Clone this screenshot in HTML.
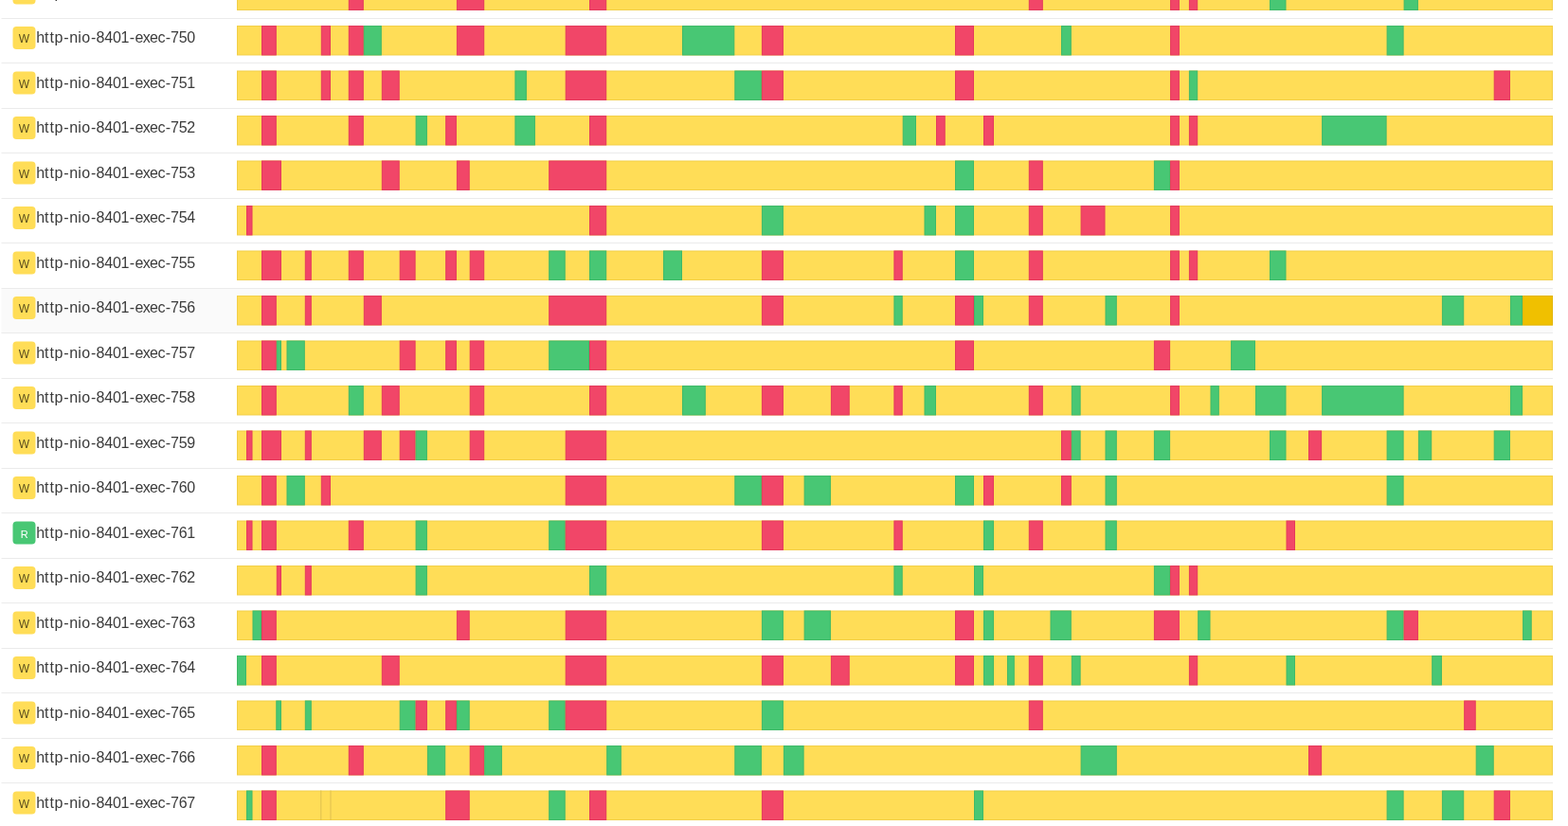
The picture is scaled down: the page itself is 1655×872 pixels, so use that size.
<!DOCTYPE html>
<html lang="en"><head><meta charset="utf-8"><title>Threads</title>
<style>
html,body{margin:0;padding:0;background:#fff;}
body{width:1655px;height:872px;position:relative;overflow:hidden;font-family:"Liberation Sans",sans-serif;color:#4a4a4a;}
svg{position:absolute;left:0;top:0;display:block;}
text{font-family:"Liberation Sans",sans-serif;}
.tg{font-size:12px;}
.tg.r{font-size:11px;}
  .nm{font-size:16px;fill:#3b3b3b;}
</style></head><body>
<svg width="1655" height="872" viewBox="0 0 1655 872">
<rect x="1.5" y="305" width="1637.5" height="47" fill="#fafafa"/>
<rect x="1.5" y="-29" width="1637.5" height="1" fill="#ebebeb"/>
<rect x="1.5" y="19" width="1637.5" height="1" fill="#ebebeb"/>
<rect x="1.5" y="66" width="1637.5" height="1" fill="#ebebeb"/>
<rect x="1.5" y="114" width="1637.5" height="1" fill="#ebebeb"/>
<rect x="1.5" y="161" width="1637.5" height="1" fill="#ebebeb"/>
<rect x="1.5" y="209" width="1637.5" height="1" fill="#ebebeb"/>
<rect x="1.5" y="256" width="1637.5" height="1" fill="#ebebeb"/>
<rect x="1.5" y="304" width="1637.5" height="1" fill="#ebebeb"/>
<rect x="1.5" y="351" width="1637.5" height="1" fill="#ebebeb"/>
<rect x="1.5" y="399" width="1637.5" height="1" fill="#ebebeb"/>
<rect x="1.5" y="446" width="1637.5" height="1" fill="#ebebeb"/>
<rect x="1.5" y="494" width="1637.5" height="1" fill="#ebebeb"/>
<rect x="1.5" y="541" width="1637.5" height="1" fill="#ebebeb"/>
<rect x="1.5" y="589" width="1637.5" height="1" fill="#ebebeb"/>
<rect x="1.5" y="636" width="1637.5" height="1" fill="#ebebeb"/>
<rect x="1.5" y="684" width="1637.5" height="1" fill="#ebebeb"/>
<rect x="1.5" y="731" width="1637.5" height="1" fill="#ebebeb"/>
<rect x="1.5" y="779" width="1637.5" height="1" fill="#ebebeb"/>
<rect x="1.5" y="826" width="1637.5" height="1" fill="#ebebeb"/>
<rect x="1.5" y="874" width="1637.5" height="1" fill="#ebebeb"/>
<g stroke-width="1">
<g transform="translate(0 -20.5)">
<rect x="250.5" y="0.5" width="1388" height="30.5" fill="#ffdd57" stroke="#f2cf48"/>
<rect x="368.3" y="0.5" width="15" height="30.5" fill="#f14668" stroke="#e43a5c"/>
<rect x="482.4" y="0.5" width="28.3" height="30.5" fill="#f14668" stroke="#e43a5c"/>
<rect x="622.5" y="0.5" width="17.2" height="30.5" fill="#f14668" stroke="#e43a5c"/>
<rect x="1086.3" y="0.5" width="14" height="30.5" fill="#f14668" stroke="#e43a5c"/>
<rect x="1235.6" y="0.5" width="8.8" height="30.5" fill="#f14668" stroke="#e43a5c"/>
<rect x="1255.4" y="0.5" width="8.3" height="30.5" fill="#f14668" stroke="#e43a5c"/>
<rect x="1340.5" y="0.5" width="16.5" height="30.5" fill="#48c774" stroke="#40ba69"/>
<rect x="1482.1" y="0.5" width="14.3" height="30.5" fill="#48c774" stroke="#40ba69"/>
</g>
<g transform="translate(0 27)">
<rect x="250.5" y="0.5" width="1388" height="30.5" fill="#ffdd57" stroke="#f2cf48"/>
<rect x="276.5" y="0.5" width="14.8" height="30.5" fill="#f14668" stroke="#e43a5c"/>
<rect x="339.3" y="0.5" width="9.2" height="30.5" fill="#f14668" stroke="#e43a5c"/>
<rect x="368.3" y="0.5" width="15" height="30.5" fill="#f14668" stroke="#e43a5c"/>
<rect x="384.3" y="0.5" width="18" height="30.5" fill="#48c774" stroke="#40ba69"/>
<rect x="482.4" y="0.5" width="28.3" height="30.5" fill="#f14668" stroke="#e43a5c"/>
<rect x="597.2" y="0.5" width="42.5" height="30.5" fill="#f14668" stroke="#e43a5c"/>
<rect x="720.5" y="0.5" width="54.3" height="30.5" fill="#48c774" stroke="#40ba69"/>
<rect x="804.4" y="0.5" width="22" height="30.5" fill="#f14668" stroke="#e43a5c"/>
<rect x="1008.5" y="0.5" width="19" height="30.5" fill="#f14668" stroke="#e43a5c"/>
<rect x="1120.5" y="0.5" width="9.8" height="30.5" fill="#48c774" stroke="#40ba69"/>
<rect x="1235.6" y="0.5" width="8.8" height="30.5" fill="#f14668" stroke="#e43a5c"/>
<rect x="1464.1" y="0.5" width="17" height="30.5" fill="#48c774" stroke="#40ba69"/>
</g>
<g transform="translate(0 74.5)">
<rect x="250.5" y="0.5" width="1388" height="30.5" fill="#ffdd57" stroke="#f2cf48"/>
<rect x="276.5" y="0.5" width="14.8" height="30.5" fill="#f14668" stroke="#e43a5c"/>
<rect x="339.3" y="0.5" width="9.2" height="30.5" fill="#f14668" stroke="#e43a5c"/>
<rect x="368.3" y="0.5" width="15" height="30.5" fill="#f14668" stroke="#e43a5c"/>
<rect x="403.3" y="0.5" width="17.9" height="30.5" fill="#f14668" stroke="#e43a5c"/>
<rect x="543.9" y="0.5" width="11.5" height="30.5" fill="#48c774" stroke="#40ba69"/>
<rect x="597.2" y="0.5" width="42.5" height="30.5" fill="#f14668" stroke="#e43a5c"/>
<rect x="775.8" y="0.5" width="27.6" height="30.5" fill="#48c774" stroke="#40ba69"/>
<rect x="804.4" y="0.5" width="22" height="30.5" fill="#f14668" stroke="#e43a5c"/>
<rect x="1008.5" y="0.5" width="19" height="30.5" fill="#f14668" stroke="#e43a5c"/>
<rect x="1235.6" y="0.5" width="8.8" height="30.5" fill="#f14668" stroke="#e43a5c"/>
<rect x="1255.4" y="0.5" width="8.3" height="30.5" fill="#48c774" stroke="#40ba69"/>
<rect x="1577.2" y="0.5" width="16.3" height="30.5" fill="#f14668" stroke="#e43a5c"/>
</g>
<g transform="translate(0 122)">
<rect x="250.5" y="0.5" width="1388" height="30.5" fill="#ffdd57" stroke="#f2cf48"/>
<rect x="276.5" y="0.5" width="14.8" height="30.5" fill="#f14668" stroke="#e43a5c"/>
<rect x="368.3" y="0.5" width="15" height="30.5" fill="#f14668" stroke="#e43a5c"/>
<rect x="439.1" y="0.5" width="11.3" height="30.5" fill="#48c774" stroke="#40ba69"/>
<rect x="470.7" y="0.5" width="10.7" height="30.5" fill="#f14668" stroke="#e43a5c"/>
<rect x="543.9" y="0.5" width="20.5" height="30.5" fill="#48c774" stroke="#40ba69"/>
<rect x="622.5" y="0.5" width="17.2" height="30.5" fill="#f14668" stroke="#e43a5c"/>
<rect x="953.2" y="0.5" width="13.3" height="30.5" fill="#48c774" stroke="#40ba69"/>
<rect x="988.5" y="0.5" width="8.7" height="30.5" fill="#f14668" stroke="#e43a5c"/>
<rect x="1038.5" y="0.5" width="10" height="30.5" fill="#f14668" stroke="#e43a5c"/>
<rect x="1235.6" y="0.5" width="8.8" height="30.5" fill="#f14668" stroke="#e43a5c"/>
<rect x="1255.4" y="0.5" width="8.3" height="30.5" fill="#f14668" stroke="#e43a5c"/>
<rect x="1395.6" y="0.5" width="67.5" height="30.5" fill="#48c774" stroke="#40ba69"/>
</g>
<g transform="translate(0 169.5)">
<rect x="250.5" y="0.5" width="1388" height="30.5" fill="#ffdd57" stroke="#f2cf48"/>
<rect x="276.5" y="0.5" width="20" height="30.5" fill="#f14668" stroke="#e43a5c"/>
<rect x="403.3" y="0.5" width="17.9" height="30.5" fill="#f14668" stroke="#e43a5c"/>
<rect x="482.4" y="0.5" width="12.8" height="30.5" fill="#f14668" stroke="#e43a5c"/>
<rect x="579.7" y="0.5" width="60" height="30.5" fill="#f14668" stroke="#e43a5c"/>
<rect x="1008.5" y="0.5" width="19" height="30.5" fill="#48c774" stroke="#40ba69"/>
<rect x="1086.3" y="0.5" width="14" height="30.5" fill="#f14668" stroke="#e43a5c"/>
<rect x="1218.4" y="0.5" width="16.2" height="30.5" fill="#48c774" stroke="#40ba69"/>
<rect x="1235.6" y="0.5" width="8.8" height="30.5" fill="#f14668" stroke="#e43a5c"/>
</g>
<g transform="translate(0 217)">
<rect x="250.5" y="0.5" width="1388" height="30.5" fill="#ffdd57" stroke="#f2cf48"/>
<rect x="260.5" y="0.5" width="5.5" height="30.5" fill="#f14668" stroke="#e43a5c"/>
<rect x="622.5" y="0.5" width="17.2" height="30.5" fill="#f14668" stroke="#e43a5c"/>
<rect x="804.4" y="0.5" width="22" height="30.5" fill="#48c774" stroke="#40ba69"/>
<rect x="976" y="0.5" width="11.5" height="30.5" fill="#48c774" stroke="#40ba69"/>
<rect x="1008.5" y="0.5" width="19" height="30.5" fill="#48c774" stroke="#40ba69"/>
<rect x="1086.3" y="0.5" width="14" height="30.5" fill="#f14668" stroke="#e43a5c"/>
<rect x="1141.1" y="0.5" width="24.9" height="30.5" fill="#f14668" stroke="#e43a5c"/>
<rect x="1235.6" y="0.5" width="8.8" height="30.5" fill="#f14668" stroke="#e43a5c"/>
</g>
<g transform="translate(0 264.5)">
<rect x="250.5" y="0.5" width="1388" height="30.5" fill="#ffdd57" stroke="#f2cf48"/>
<rect x="276.5" y="0.5" width="20" height="30.5" fill="#f14668" stroke="#e43a5c"/>
<rect x="322.3" y="0.5" width="6" height="30.5" fill="#f14668" stroke="#e43a5c"/>
<rect x="368.3" y="0.5" width="15" height="30.5" fill="#f14668" stroke="#e43a5c"/>
<rect x="422.2" y="0.5" width="15.9" height="30.5" fill="#f14668" stroke="#e43a5c"/>
<rect x="470.7" y="0.5" width="10.7" height="30.5" fill="#f14668" stroke="#e43a5c"/>
<rect x="496.2" y="0.5" width="14.5" height="30.5" fill="#f14668" stroke="#e43a5c"/>
<rect x="579.7" y="0.5" width="16.5" height="30.5" fill="#48c774" stroke="#40ba69"/>
<rect x="622.5" y="0.5" width="17.2" height="30.5" fill="#48c774" stroke="#40ba69"/>
<rect x="700.5" y="0.5" width="19" height="30.5" fill="#48c774" stroke="#40ba69"/>
<rect x="804.4" y="0.5" width="22" height="30.5" fill="#f14668" stroke="#e43a5c"/>
<rect x="943.9" y="0.5" width="8.3" height="30.5" fill="#f14668" stroke="#e43a5c"/>
<rect x="1008.5" y="0.5" width="19" height="30.5" fill="#48c774" stroke="#40ba69"/>
<rect x="1086.3" y="0.5" width="14" height="30.5" fill="#f14668" stroke="#e43a5c"/>
<rect x="1235.6" y="0.5" width="8.8" height="30.5" fill="#f14668" stroke="#e43a5c"/>
<rect x="1255.4" y="0.5" width="8.3" height="30.5" fill="#f14668" stroke="#e43a5c"/>
<rect x="1340.5" y="0.5" width="16.5" height="30.5" fill="#48c774" stroke="#40ba69"/>
</g>
<g transform="translate(0 312)">
<rect x="250.5" y="0.5" width="1388" height="30.5" fill="#ffdd57" stroke="#f2cf48"/>
<rect x="276.5" y="0.5" width="14.8" height="30.5" fill="#f14668" stroke="#e43a5c"/>
<rect x="322.3" y="0.5" width="6" height="30.5" fill="#f14668" stroke="#e43a5c"/>
<rect x="384.3" y="0.5" width="18" height="30.5" fill="#f14668" stroke="#e43a5c"/>
<rect x="579.7" y="0.5" width="60" height="30.5" fill="#f14668" stroke="#e43a5c"/>
<rect x="804.4" y="0.5" width="22" height="30.5" fill="#f14668" stroke="#e43a5c"/>
<rect x="943.9" y="0.5" width="8.3" height="30.5" fill="#48c774" stroke="#40ba69"/>
<rect x="1008.5" y="0.5" width="19" height="30.5" fill="#f14668" stroke="#e43a5c"/>
<rect x="1028.5" y="0.5" width="9" height="30.5" fill="#48c774" stroke="#40ba69"/>
<rect x="1086.3" y="0.5" width="14" height="30.5" fill="#f14668" stroke="#e43a5c"/>
<rect x="1167" y="0.5" width="11.3" height="30.5" fill="#48c774" stroke="#40ba69"/>
<rect x="1235.6" y="0.5" width="8.8" height="30.5" fill="#f14668" stroke="#e43a5c"/>
<rect x="1522.4" y="0.5" width="22.3" height="30.5" fill="#48c774" stroke="#40ba69"/>
<rect x="1594.5" y="0.5" width="12.1" height="30.5" fill="#48c774" stroke="#40ba69"/>
<rect x="1607.6" y="0.5" width="30.9" height="30.5" fill="#f0c000" stroke="#e2b400"/>
</g>
<g transform="translate(0 359.5)">
<rect x="250.5" y="0.5" width="1388" height="30.5" fill="#ffdd57" stroke="#f2cf48"/>
<rect x="276.5" y="0.5" width="14.8" height="30.5" fill="#f14668" stroke="#e43a5c"/>
<rect x="292.3" y="0.5" width="4.2" height="30.5" fill="#48c774" stroke="#40ba69"/>
<rect x="303" y="0.5" width="18.3" height="30.5" fill="#48c774" stroke="#40ba69"/>
<rect x="422.2" y="0.5" width="15.9" height="30.5" fill="#f14668" stroke="#e43a5c"/>
<rect x="470.7" y="0.5" width="10.7" height="30.5" fill="#f14668" stroke="#e43a5c"/>
<rect x="496.2" y="0.5" width="14.5" height="30.5" fill="#f14668" stroke="#e43a5c"/>
<rect x="579.7" y="0.5" width="41.8" height="30.5" fill="#48c774" stroke="#40ba69"/>
<rect x="622.5" y="0.5" width="17.2" height="30.5" fill="#f14668" stroke="#e43a5c"/>
<rect x="1008.5" y="0.5" width="19" height="30.5" fill="#f14668" stroke="#e43a5c"/>
<rect x="1218.4" y="0.5" width="16.2" height="30.5" fill="#f14668" stroke="#e43a5c"/>
<rect x="1299.6" y="0.5" width="24.9" height="30.5" fill="#48c774" stroke="#40ba69"/>
</g>
<g transform="translate(0 407)">
<rect x="250.5" y="0.5" width="1388" height="30.5" fill="#ffdd57" stroke="#f2cf48"/>
<rect x="276.5" y="0.5" width="14.8" height="30.5" fill="#f14668" stroke="#e43a5c"/>
<rect x="368.3" y="0.5" width="15" height="30.5" fill="#48c774" stroke="#40ba69"/>
<rect x="403.3" y="0.5" width="17.9" height="30.5" fill="#f14668" stroke="#e43a5c"/>
<rect x="496.2" y="0.5" width="14.5" height="30.5" fill="#f14668" stroke="#e43a5c"/>
<rect x="622.5" y="0.5" width="17.2" height="30.5" fill="#f14668" stroke="#e43a5c"/>
<rect x="720.5" y="0.5" width="23.8" height="30.5" fill="#48c774" stroke="#40ba69"/>
<rect x="804.4" y="0.5" width="22" height="30.5" fill="#f14668" stroke="#e43a5c"/>
<rect x="877.4" y="0.5" width="18.8" height="30.5" fill="#f14668" stroke="#e43a5c"/>
<rect x="943.9" y="0.5" width="8.3" height="30.5" fill="#f14668" stroke="#e43a5c"/>
<rect x="976" y="0.5" width="11.5" height="30.5" fill="#48c774" stroke="#40ba69"/>
<rect x="1086.3" y="0.5" width="14" height="30.5" fill="#f14668" stroke="#e43a5c"/>
<rect x="1131.3" y="0.5" width="8.8" height="30.5" fill="#48c774" stroke="#40ba69"/>
<rect x="1235.6" y="0.5" width="8.8" height="30.5" fill="#f14668" stroke="#e43a5c"/>
<rect x="1278" y="0.5" width="8.3" height="30.5" fill="#48c774" stroke="#40ba69"/>
<rect x="1325.5" y="0.5" width="31.5" height="30.5" fill="#48c774" stroke="#40ba69"/>
<rect x="1395.6" y="0.5" width="85.5" height="30.5" fill="#48c774" stroke="#40ba69"/>
<rect x="1594.5" y="0.5" width="12.1" height="30.5" fill="#48c774" stroke="#40ba69"/>
</g>
<g transform="translate(0 454.5)">
<rect x="250.5" y="0.5" width="1388" height="30.5" fill="#ffdd57" stroke="#f2cf48"/>
<rect x="260.5" y="0.5" width="5.5" height="30.5" fill="#f14668" stroke="#e43a5c"/>
<rect x="276.5" y="0.5" width="20" height="30.5" fill="#f14668" stroke="#e43a5c"/>
<rect x="322.3" y="0.5" width="6" height="30.5" fill="#f14668" stroke="#e43a5c"/>
<rect x="384.3" y="0.5" width="18" height="30.5" fill="#f14668" stroke="#e43a5c"/>
<rect x="422.2" y="0.5" width="15.9" height="30.5" fill="#f14668" stroke="#e43a5c"/>
<rect x="439.1" y="0.5" width="11.3" height="30.5" fill="#48c774" stroke="#40ba69"/>
<rect x="496.2" y="0.5" width="14.5" height="30.5" fill="#f14668" stroke="#e43a5c"/>
<rect x="597.2" y="0.5" width="42.5" height="30.5" fill="#f14668" stroke="#e43a5c"/>
<rect x="1120.5" y="0.5" width="9.8" height="30.5" fill="#f14668" stroke="#e43a5c"/>
<rect x="1131.3" y="0.5" width="8.8" height="30.5" fill="#48c774" stroke="#40ba69"/>
<rect x="1167" y="0.5" width="11.3" height="30.5" fill="#48c774" stroke="#40ba69"/>
<rect x="1218.4" y="0.5" width="16.2" height="30.5" fill="#48c774" stroke="#40ba69"/>
<rect x="1340.5" y="0.5" width="16.5" height="30.5" fill="#48c774" stroke="#40ba69"/>
<rect x="1381.5" y="0.5" width="13.1" height="30.5" fill="#f14668" stroke="#e43a5c"/>
<rect x="1464.1" y="0.5" width="17" height="30.5" fill="#48c774" stroke="#40ba69"/>
<rect x="1497.4" y="0.5" width="13.3" height="30.5" fill="#48c774" stroke="#40ba69"/>
<rect x="1577.2" y="0.5" width="16.3" height="30.5" fill="#48c774" stroke="#40ba69"/>
</g>
<g transform="translate(0 502)">
<rect x="250.5" y="0.5" width="1388" height="30.5" fill="#ffdd57" stroke="#f2cf48"/>
<rect x="276.5" y="0.5" width="14.8" height="30.5" fill="#f14668" stroke="#e43a5c"/>
<rect x="303" y="0.5" width="18.3" height="30.5" fill="#48c774" stroke="#40ba69"/>
<rect x="339.3" y="0.5" width="9.2" height="30.5" fill="#f14668" stroke="#e43a5c"/>
<rect x="597.2" y="0.5" width="42.5" height="30.5" fill="#f14668" stroke="#e43a5c"/>
<rect x="775.8" y="0.5" width="27.6" height="30.5" fill="#48c774" stroke="#40ba69"/>
<rect x="804.4" y="0.5" width="22" height="30.5" fill="#f14668" stroke="#e43a5c"/>
<rect x="849.1" y="0.5" width="27.3" height="30.5" fill="#48c774" stroke="#40ba69"/>
<rect x="1008.5" y="0.5" width="19" height="30.5" fill="#48c774" stroke="#40ba69"/>
<rect x="1038.5" y="0.5" width="10" height="30.5" fill="#f14668" stroke="#e43a5c"/>
<rect x="1120.5" y="0.5" width="9.8" height="30.5" fill="#f14668" stroke="#e43a5c"/>
<rect x="1167" y="0.5" width="11.3" height="30.5" fill="#48c774" stroke="#40ba69"/>
<rect x="1464.1" y="0.5" width="17" height="30.5" fill="#48c774" stroke="#40ba69"/>
</g>
<g transform="translate(0 549.5)">
<rect x="250.5" y="0.5" width="1388" height="30.5" fill="#ffdd57" stroke="#f2cf48"/>
<rect x="260.5" y="0.5" width="5.5" height="30.5" fill="#f14668" stroke="#e43a5c"/>
<rect x="276.5" y="0.5" width="14.8" height="30.5" fill="#f14668" stroke="#e43a5c"/>
<rect x="368.3" y="0.5" width="15" height="30.5" fill="#f14668" stroke="#e43a5c"/>
<rect x="439.1" y="0.5" width="11.3" height="30.5" fill="#48c774" stroke="#40ba69"/>
<rect x="579.7" y="0.5" width="16.5" height="30.5" fill="#48c774" stroke="#40ba69"/>
<rect x="597.2" y="0.5" width="42.5" height="30.5" fill="#f14668" stroke="#e43a5c"/>
<rect x="804.4" y="0.5" width="22" height="30.5" fill="#f14668" stroke="#e43a5c"/>
<rect x="943.9" y="0.5" width="8.3" height="30.5" fill="#f14668" stroke="#e43a5c"/>
<rect x="1038.5" y="0.5" width="10" height="30.5" fill="#48c774" stroke="#40ba69"/>
<rect x="1086.3" y="0.5" width="14" height="30.5" fill="#f14668" stroke="#e43a5c"/>
<rect x="1167" y="0.5" width="11.3" height="30.5" fill="#48c774" stroke="#40ba69"/>
<rect x="1358" y="0.5" width="8.5" height="30.5" fill="#f14668" stroke="#e43a5c"/>
</g>
<g transform="translate(0 597)">
<rect x="250.5" y="0.5" width="1388" height="30.5" fill="#ffdd57" stroke="#f2cf48"/>
<rect x="292.3" y="0.5" width="4.2" height="30.5" fill="#f14668" stroke="#e43a5c"/>
<rect x="322.3" y="0.5" width="6" height="30.5" fill="#f14668" stroke="#e43a5c"/>
<rect x="439.1" y="0.5" width="11.3" height="30.5" fill="#48c774" stroke="#40ba69"/>
<rect x="622.5" y="0.5" width="17.2" height="30.5" fill="#48c774" stroke="#40ba69"/>
<rect x="943.9" y="0.5" width="8.3" height="30.5" fill="#48c774" stroke="#40ba69"/>
<rect x="1028.5" y="0.5" width="9" height="30.5" fill="#48c774" stroke="#40ba69"/>
<rect x="1218.4" y="0.5" width="16.2" height="30.5" fill="#48c774" stroke="#40ba69"/>
<rect x="1235.6" y="0.5" width="8.8" height="30.5" fill="#f14668" stroke="#e43a5c"/>
<rect x="1255.4" y="0.5" width="8.3" height="30.5" fill="#f14668" stroke="#e43a5c"/>
</g>
<g transform="translate(0 644.5)">
<rect x="250.5" y="0.5" width="1388" height="30.5" fill="#ffdd57" stroke="#f2cf48"/>
<rect x="267" y="0.5" width="8.5" height="30.5" fill="#48c774" stroke="#40ba69"/>
<rect x="276.5" y="0.5" width="14.8" height="30.5" fill="#f14668" stroke="#e43a5c"/>
<rect x="482.4" y="0.5" width="12.8" height="30.5" fill="#f14668" stroke="#e43a5c"/>
<rect x="597.2" y="0.5" width="42.5" height="30.5" fill="#f14668" stroke="#e43a5c"/>
<rect x="804.4" y="0.5" width="22" height="30.5" fill="#48c774" stroke="#40ba69"/>
<rect x="849.1" y="0.5" width="27.3" height="30.5" fill="#48c774" stroke="#40ba69"/>
<rect x="1008.5" y="0.5" width="19" height="30.5" fill="#f14668" stroke="#e43a5c"/>
<rect x="1038.5" y="0.5" width="10" height="30.5" fill="#48c774" stroke="#40ba69"/>
<rect x="1109" y="0.5" width="21.3" height="30.5" fill="#48c774" stroke="#40ba69"/>
<rect x="1218.4" y="0.5" width="26" height="30.5" fill="#f14668" stroke="#e43a5c"/>
<rect x="1264.7" y="0.5" width="12.3" height="30.5" fill="#48c774" stroke="#40ba69"/>
<rect x="1464.1" y="0.5" width="17" height="30.5" fill="#48c774" stroke="#40ba69"/>
<rect x="1482.1" y="0.5" width="14.3" height="30.5" fill="#f14668" stroke="#e43a5c"/>
<rect x="1607.6" y="0.5" width="8.6" height="30.5" fill="#48c774" stroke="#40ba69"/>
</g>
<g transform="translate(0 692)">
<rect x="250.5" y="0.5" width="1388" height="30.5" fill="#ffdd57" stroke="#f2cf48"/>
<rect x="250.5" y="0.5" width="9" height="30.5" fill="#48c774" stroke="#40ba69"/>
<rect x="276.5" y="0.5" width="14.8" height="30.5" fill="#f14668" stroke="#e43a5c"/>
<rect x="403.3" y="0.5" width="17.9" height="30.5" fill="#f14668" stroke="#e43a5c"/>
<rect x="597.2" y="0.5" width="42.5" height="30.5" fill="#f14668" stroke="#e43a5c"/>
<rect x="804.4" y="0.5" width="22" height="30.5" fill="#f14668" stroke="#e43a5c"/>
<rect x="877.4" y="0.5" width="18.8" height="30.5" fill="#f14668" stroke="#e43a5c"/>
<rect x="1008.5" y="0.5" width="19" height="30.5" fill="#f14668" stroke="#e43a5c"/>
<rect x="1038.5" y="0.5" width="10" height="30.5" fill="#48c774" stroke="#40ba69"/>
<rect x="1063.5" y="0.5" width="6.8" height="30.5" fill="#48c774" stroke="#40ba69"/>
<rect x="1086.3" y="0.5" width="14" height="30.5" fill="#f14668" stroke="#e43a5c"/>
<rect x="1131.3" y="0.5" width="8.8" height="30.5" fill="#48c774" stroke="#40ba69"/>
<rect x="1255.4" y="0.5" width="8.3" height="30.5" fill="#f14668" stroke="#e43a5c"/>
<rect x="1358" y="0.5" width="8.5" height="30.5" fill="#48c774" stroke="#40ba69"/>
<rect x="1511.7" y="0.5" width="9.7" height="30.5" fill="#48c774" stroke="#40ba69"/>
</g>
<g transform="translate(0 739.5)">
<rect x="250.5" y="0.5" width="1388" height="30.5" fill="#ffdd57" stroke="#f2cf48"/>
<rect x="291.8" y="0.5" width="4.7" height="30.5" fill="#48c774" stroke="#40ba69"/>
<rect x="322.3" y="0.5" width="6" height="30.5" fill="#48c774" stroke="#40ba69"/>
<rect x="422.2" y="0.5" width="15.9" height="30.5" fill="#48c774" stroke="#40ba69"/>
<rect x="439.1" y="0.5" width="11.3" height="30.5" fill="#f14668" stroke="#e43a5c"/>
<rect x="470.7" y="0.5" width="10.7" height="30.5" fill="#f14668" stroke="#e43a5c"/>
<rect x="482.4" y="0.5" width="12.8" height="30.5" fill="#48c774" stroke="#40ba69"/>
<rect x="579.7" y="0.5" width="16.5" height="30.5" fill="#48c774" stroke="#40ba69"/>
<rect x="597.2" y="0.5" width="42.5" height="30.5" fill="#f14668" stroke="#e43a5c"/>
<rect x="804.4" y="0.5" width="22" height="30.5" fill="#48c774" stroke="#40ba69"/>
<rect x="1086.3" y="0.5" width="14" height="30.5" fill="#f14668" stroke="#e43a5c"/>
<rect x="1545.7" y="0.5" width="11.5" height="30.5" fill="#f14668" stroke="#e43a5c"/>
</g>
<g transform="translate(0 787)">
<rect x="250.5" y="0.5" width="1388" height="30.5" fill="#ffdd57" stroke="#f2cf48"/>
<rect x="276.5" y="0.5" width="14.8" height="30.5" fill="#f14668" stroke="#e43a5c"/>
<rect x="368.3" y="0.5" width="15" height="30.5" fill="#f14668" stroke="#e43a5c"/>
<rect x="451.4" y="0.5" width="18.3" height="30.5" fill="#48c774" stroke="#40ba69"/>
<rect x="496.2" y="0.5" width="14.5" height="30.5" fill="#f14668" stroke="#e43a5c"/>
<rect x="511.7" y="0.5" width="17.7" height="30.5" fill="#48c774" stroke="#40ba69"/>
<rect x="640.7" y="0.5" width="14.6" height="30.5" fill="#48c774" stroke="#40ba69"/>
<rect x="775.8" y="0.5" width="27.6" height="30.5" fill="#48c774" stroke="#40ba69"/>
<rect x="827.4" y="0.5" width="20.7" height="30.5" fill="#48c774" stroke="#40ba69"/>
<rect x="1141.1" y="0.5" width="37.2" height="30.5" fill="#48c774" stroke="#40ba69"/>
<rect x="1381.5" y="0.5" width="13.1" height="30.5" fill="#f14668" stroke="#e43a5c"/>
<rect x="1558.2" y="0.5" width="18" height="30.5" fill="#48c774" stroke="#40ba69"/>
</g>
<g transform="translate(0 834.5)">
<rect x="250.5" y="0.5" width="1388" height="30.5" fill="#ffdd57" stroke="#f2cf48"/>
<rect x="260.5" y="0.5" width="5.5" height="30.5" fill="#48c774" stroke="#40ba69"/>
<rect x="276.5" y="0.5" width="14.8" height="30.5" fill="#f14668" stroke="#e43a5c"/>
<rect x="338.3" y="0" width="1" height="31.5" fill="#dfc050" stroke="none"/>
<rect x="348.5" y="0" width="1" height="31.5" fill="#dfc050" stroke="none"/>
<rect x="470.7" y="0.5" width="24.5" height="30.5" fill="#f14668" stroke="#e43a5c"/>
<rect x="579.7" y="0.5" width="16.5" height="30.5" fill="#48c774" stroke="#40ba69"/>
<rect x="622.5" y="0.5" width="17.2" height="30.5" fill="#f14668" stroke="#e43a5c"/>
<rect x="804.4" y="0.5" width="22" height="30.5" fill="#f14668" stroke="#e43a5c"/>
<rect x="1028.5" y="0.5" width="9" height="30.5" fill="#48c774" stroke="#40ba69"/>
<rect x="1464.1" y="0.5" width="17" height="30.5" fill="#48c774" stroke="#40ba69"/>
<rect x="1522.4" y="0.5" width="22.3" height="30.5" fill="#48c774" stroke="#40ba69"/>
<rect x="1577.2" y="0.5" width="16.3" height="30.5" fill="#f14668" stroke="#e43a5c"/>
</g>
</g>
<rect x="13.5" y="-19.5" width="24" height="24" rx="4" ry="4" fill="#ffdd57"/>
<text class="tg" x="25.5" y="-2.5" fill="#5a4e1e" text-anchor="middle">W</text>
<text class="nm" x="38.3 47.1 52.4 57.6 67.2 73.2 82.3 86.2 95.9 101.6 110.2 118.9 127.5 136.8 142.4 150.7 158.1 166.4 174.7 180.1 188.7 197.2" y="-2.5">http-nio-8401-exec-749</text>
<rect x="13.5" y="28" width="24" height="24" rx="4" ry="4" fill="#ffdd57"/>
<text class="tg" x="25.5" y="45" fill="#5a4e1e" text-anchor="middle">W</text>
<text class="nm" x="38.3 47.1 52.4 57.6 67.2 73.2 82.3 86.2 95.9 101.6 110.2 118.9 127.5 136.8 142.4 150.7 158.1 166.4 174.7 180.1 188.7 197.2" y="45">http-nio-8401-exec-750</text>
<rect x="13.5" y="75.5" width="24" height="24" rx="4" ry="4" fill="#ffdd57"/>
<text class="tg" x="25.5" y="92.5" fill="#5a4e1e" text-anchor="middle">W</text>
<text class="nm" x="38.3 47.1 52.4 57.6 67.2 73.2 82.3 86.2 95.9 101.6 110.2 118.9 127.5 136.8 142.4 150.7 158.1 166.4 174.7 180.1 188.7 197.2" y="92.5">http-nio-8401-exec-751</text>
<rect x="13.5" y="123" width="24" height="24" rx="4" ry="4" fill="#ffdd57"/>
<text class="tg" x="25.5" y="140" fill="#5a4e1e" text-anchor="middle">W</text>
<text class="nm" x="38.3 47.1 52.4 57.6 67.2 73.2 82.3 86.2 95.9 101.6 110.2 118.9 127.5 136.8 142.4 150.7 158.1 166.4 174.7 180.1 188.7 197.2" y="140">http-nio-8401-exec-752</text>
<rect x="13.5" y="170.5" width="24" height="24" rx="4" ry="4" fill="#ffdd57"/>
<text class="tg" x="25.5" y="187.5" fill="#5a4e1e" text-anchor="middle">W</text>
<text class="nm" x="38.3 47.1 52.4 57.6 67.2 73.2 82.3 86.2 95.9 101.6 110.2 118.9 127.5 136.8 142.4 150.7 158.1 166.4 174.7 180.1 188.7 197.2" y="187.5">http-nio-8401-exec-753</text>
<rect x="13.5" y="218" width="24" height="24" rx="4" ry="4" fill="#ffdd57"/>
<text class="tg" x="25.5" y="235" fill="#5a4e1e" text-anchor="middle">W</text>
<text class="nm" x="38.3 47.1 52.4 57.6 67.2 73.2 82.3 86.2 95.9 101.6 110.2 118.9 127.5 136.8 142.4 150.7 158.1 166.4 174.7 180.1 188.7 197.2" y="235">http-nio-8401-exec-754</text>
<rect x="13.5" y="265.5" width="24" height="24" rx="4" ry="4" fill="#ffdd57"/>
<text class="tg" x="25.5" y="282.5" fill="#5a4e1e" text-anchor="middle">W</text>
<text class="nm" x="38.3 47.1 52.4 57.6 67.2 73.2 82.3 86.2 95.9 101.6 110.2 118.9 127.5 136.8 142.4 150.7 158.1 166.4 174.7 180.1 188.7 197.2" y="282.5">http-nio-8401-exec-755</text>
<rect x="13.5" y="313" width="24" height="24" rx="4" ry="4" fill="#ffdd57"/>
<text class="tg" x="25.5" y="330" fill="#5a4e1e" text-anchor="middle">W</text>
<text class="nm" x="38.3 47.1 52.4 57.6 67.2 73.2 82.3 86.2 95.9 101.6 110.2 118.9 127.5 136.8 142.4 150.7 158.1 166.4 174.7 180.1 188.7 197.2" y="330">http-nio-8401-exec-756</text>
<rect x="13.5" y="360.5" width="24" height="24" rx="4" ry="4" fill="#ffdd57"/>
<text class="tg" x="25.5" y="377.5" fill="#5a4e1e" text-anchor="middle">W</text>
<text class="nm" x="38.3 47.1 52.4 57.6 67.2 73.2 82.3 86.2 95.9 101.6 110.2 118.9 127.5 136.8 142.4 150.7 158.1 166.4 174.7 180.1 188.7 197.2" y="377.5">http-nio-8401-exec-757</text>
<rect x="13.5" y="408" width="24" height="24" rx="4" ry="4" fill="#ffdd57"/>
<text class="tg" x="25.5" y="425" fill="#5a4e1e" text-anchor="middle">W</text>
<text class="nm" x="38.3 47.1 52.4 57.6 67.2 73.2 82.3 86.2 95.9 101.6 110.2 118.9 127.5 136.8 142.4 150.7 158.1 166.4 174.7 180.1 188.7 197.2" y="425">http-nio-8401-exec-758</text>
<rect x="13.5" y="455.5" width="24" height="24" rx="4" ry="4" fill="#ffdd57"/>
<text class="tg" x="25.5" y="472.5" fill="#5a4e1e" text-anchor="middle">W</text>
<text class="nm" x="38.3 47.1 52.4 57.6 67.2 73.2 82.3 86.2 95.9 101.6 110.2 118.9 127.5 136.8 142.4 150.7 158.1 166.4 174.7 180.1 188.7 197.2" y="472.5">http-nio-8401-exec-759</text>
<rect x="13.5" y="503" width="24" height="24" rx="4" ry="4" fill="#ffdd57"/>
<text class="tg" x="25.5" y="520" fill="#5a4e1e" text-anchor="middle">W</text>
<text class="nm" x="38.3 47.1 52.4 57.6 67.2 73.2 82.3 86.2 95.9 101.6 110.2 118.9 127.5 136.8 142.4 150.7 158.1 166.4 174.7 180.1 188.7 197.2" y="520">http-nio-8401-exec-760</text>
<rect x="13.5" y="550.5" width="24" height="24" rx="4" ry="4" fill="#48c774"/>
<text class="tg r" x="25.8" y="567.5" fill="#ffffff" text-anchor="middle">R</text>
<text class="nm" x="38.3 47.1 52.4 57.6 67.2 73.2 82.3 86.2 95.9 101.6 110.2 118.9 127.5 136.8 142.4 150.7 158.1 166.4 174.7 180.1 188.7 197.2" y="567.5">http-nio-8401-exec-761</text>
<rect x="13.5" y="598" width="24" height="24" rx="4" ry="4" fill="#ffdd57"/>
<text class="tg" x="25.5" y="615" fill="#5a4e1e" text-anchor="middle">W</text>
<text class="nm" x="38.3 47.1 52.4 57.6 67.2 73.2 82.3 86.2 95.9 101.6 110.2 118.9 127.5 136.8 142.4 150.7 158.1 166.4 174.7 180.1 188.7 197.2" y="615">http-nio-8401-exec-762</text>
<rect x="13.5" y="645.5" width="24" height="24" rx="4" ry="4" fill="#ffdd57"/>
<text class="tg" x="25.5" y="662.5" fill="#5a4e1e" text-anchor="middle">W</text>
<text class="nm" x="38.3 47.1 52.4 57.6 67.2 73.2 82.3 86.2 95.9 101.6 110.2 118.9 127.5 136.8 142.4 150.7 158.1 166.4 174.7 180.1 188.7 197.2" y="662.5">http-nio-8401-exec-763</text>
<rect x="13.5" y="693" width="24" height="24" rx="4" ry="4" fill="#ffdd57"/>
<text class="tg" x="25.5" y="710" fill="#5a4e1e" text-anchor="middle">W</text>
<text class="nm" x="38.3 47.1 52.4 57.6 67.2 73.2 82.3 86.2 95.9 101.6 110.2 118.9 127.5 136.8 142.4 150.7 158.1 166.4 174.7 180.1 188.7 197.2" y="710">http-nio-8401-exec-764</text>
<rect x="13.5" y="740.5" width="24" height="24" rx="4" ry="4" fill="#ffdd57"/>
<text class="tg" x="25.5" y="757.5" fill="#5a4e1e" text-anchor="middle">W</text>
<text class="nm" x="38.3 47.1 52.4 57.6 67.2 73.2 82.3 86.2 95.9 101.6 110.2 118.9 127.5 136.8 142.4 150.7 158.1 166.4 174.7 180.1 188.7 197.2" y="757.5">http-nio-8401-exec-765</text>
<rect x="13.5" y="788" width="24" height="24" rx="4" ry="4" fill="#ffdd57"/>
<text class="tg" x="25.5" y="805" fill="#5a4e1e" text-anchor="middle">W</text>
<text class="nm" x="38.3 47.1 52.4 57.6 67.2 73.2 82.3 86.2 95.9 101.6 110.2 118.9 127.5 136.8 142.4 150.7 158.1 166.4 174.7 180.1 188.7 197.2" y="805">http-nio-8401-exec-766</text>
<rect x="13.5" y="835.5" width="24" height="24" rx="4" ry="4" fill="#ffdd57"/>
<text class="tg" x="25.5" y="852.5" fill="#5a4e1e" text-anchor="middle">W</text>
<text class="nm" x="38.3 47.1 52.4 57.6 67.2 73.2 82.3 86.2 95.9 101.6 110.2 118.9 127.5 136.8 142.4 150.7 158.1 166.4 174.7 180.1 188.7 197.2" y="852.5">http-nio-8401-exec-767</text>
</svg>
</body></html>
